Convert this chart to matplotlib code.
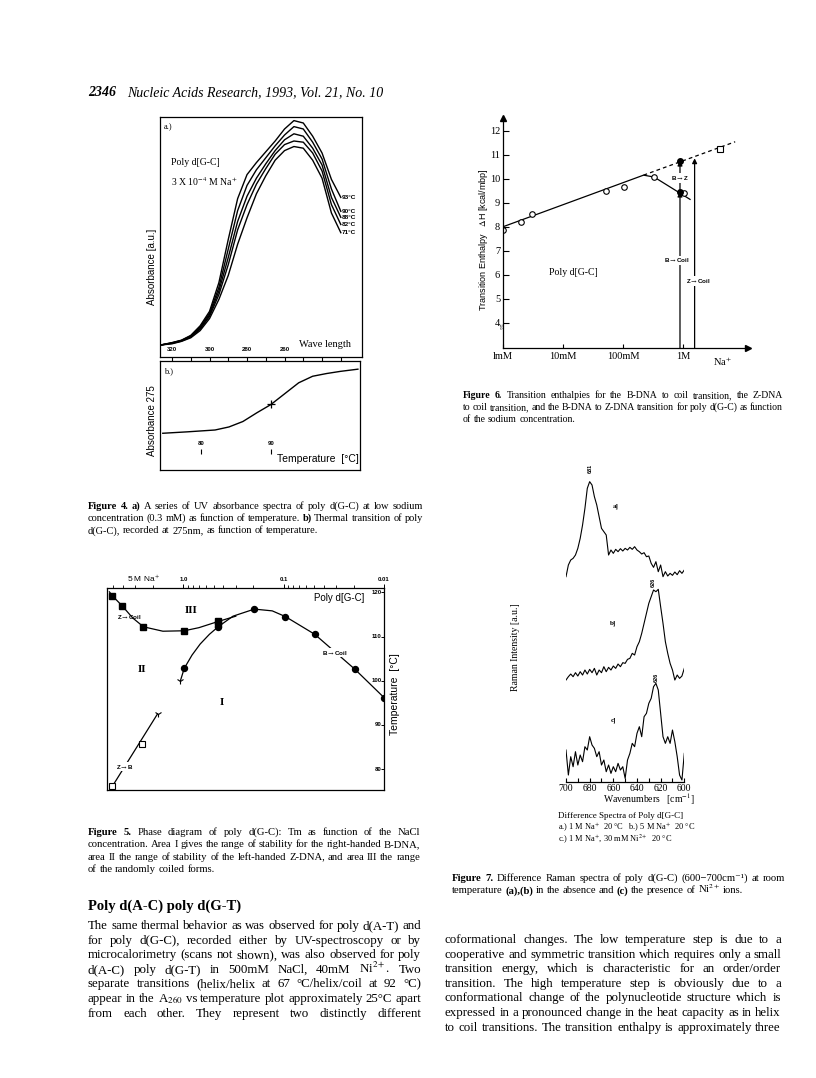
import numpy as np
import matplotlib
matplotlib.use('Agg')
import matplotlib.pyplot as plt
from matplotlib.transforms import blended_transform_factory as blend

plt.rcParams['mathtext.fontset'] = 'stix'
plt.rcParams['axes.linewidth'] = 0.9
SERIF = ['Liberation Serif', 'DejaVu Serif']
SANS = ['Liberation Sans', 'DejaVu Sans']

# ---------------- Figure 4a: UV spectra ----------------
wl = [326, 320, 315, 310, 305, 300, 295, 290, 285, 280, 275, 270, 265, 260, 255, 250, 245, 240, 235, 230]
abs_93 = [.05, .060, .070, .090, .130, .190, .310, .490, .660, .760, .810, .855, .900, .950, .985, .975, .920, .850, .740, .665]
abs_90 = [.05, .059, .069, .088, .125, .182, .290, .450, .610, .715, .780, .830, .880, .925, .960, .950, .895, .825, .700, .607]
abs_88 = [.05, .058, .068, .085, .120, .175, .275, .415, .565, .670, .745, .805, .860, .905, .930, .920, .870, .800, .665, .582]
abs_82 = [.05, .057, .066, .083, .116, .169, .260, .385, .530, .635, .720, .785, .845, .885, .900, .895, .850, .775, .635, .552]
abs_71 = [.05, .055, .065, .080, .110, .160, .240, .340, .470, .580, .680, .755, .820, .860, .877, .870, .820, .745, .600, .518]
temp_labels = ['93°C', '90°C', '88°C', '82°C', '71°C']
wl_ticks = [320, 310, 300, 290, 280, 270, 260, 250, 240, 230]
wl_ticklabels = [320, 300, 280, 260]

# ---------------- Figure 4b: melting curve ----------------
temp_b = [74.5, 78, 82, 84, 86, 88, 90, 92, 94, 96, 98, 100, 102.5]
abs275 = [0.337, 0.350, 0.367, 0.395, 0.445, 0.525, 0.600, 0.700, 0.800, 0.860, 0.885, 0.905, 0.925]
tm_b = [90.1]
tm_abs = [0.603]
temp_ticklabels = [80, 90]

# ---------------- Figure 6: transition enthalpies ----------------
na_open = [1.0e-3, 2.0e-3, 3.0e-3, 0.052, 0.104, 0.33, 1.04]
dh_open = [7.86, 8.18, 8.53, 9.50, 9.67, 10.06, 9.39]
na_fill = [0.89, 0.89]
dh_fill = [9.46, 10.75]
na_square = [4.2]
dh_square = [11.24]
na_fit = [1.0e-3, 0.22, 0.33, 1.31]
dh_fit = [8.00, 10.15, 10.07, 9.14]
na_dash = [0.22, 7.4]
dh_dash = [10.15, 11.54]
dh_ticks = [4, 5, 6, 7, 8, 9, 10, 11, 12]
na_ticks = [1e-3, 1e-2, 1e-1, 1.0]
na_ticklabels = ['lmM', '10mM', '100mM', '1M']
bcoil_na, bcoil_top = 0.89, 9.46
bz_na, bz_top = 0.89, 10.75
zcoil_na, zcoil_top = 1.56, 10.85

# ---------------- Figure 5: phase diagram ----------------
zc_na = [5.1, 4.06, 2.5, 0.98, 0.45, 0.45]
zc_T = [119.2, 116.9, 112.2, 111.3, 113.4, 112.8]
zc_line_na = [5.46, 5.1, 4.06, 3.2, 2.5, 1.6, 0.98, 0.7, 0.45, 0.3]
zc_line_T = [120.1, 119.2, 116.9, 114.2, 112.2, 111.2, 111.3, 112.0, 113.4, 114.6]
bc_na = [0.98, 0.45, 0.196, 0.096, 0.049, 0.0195, 0.01]
bc_T = [102.8, 112.2, 116.2, 114.5, 110.5, 102.6, 96.2]
bc_line_na = [1.07, 0.98, 0.82, 0.68, 0.55, 0.45, 0.32, 0.196, 0.13, 0.096, 0.049, 0.0195, 0.01]
bc_line_T = [100.0, 102.8, 105.8, 108.3, 110.5, 112.2, 114.6, 116.2, 115.8, 114.5, 110.5, 102.6, 96.2]
zb_na = [5.2, 2.6]
zb_T = [76.1, 85.7]
zb_line_na = [5.38, 1.81]
zb_line_T = [75.3, 92.5]
T_ticks = [80, 90, 100, 110, 120]
conc_ticks = [1.0, 0.1, 0.01]
conc_ticklabels = ['1.0', '0.1', '0.01']

# ---------------- Figure 7: Raman difference spectra ----------------
wavenumber = np.arange(700, 599, -2)
spec_a = [62, 65.5, 67, 67.5, 68.5, 70.5, 73.5, 77.5, 82.5, 88.5,
          90.5, 89.5, 86, 83.5, 80, 76.5, 75.5, 74.5, 68.5, 70,
          69, 70.2, 69.5, 70.4, 69.7, 70.5, 70, 70.8, 70.2, 71,
          70, 69.5, 68.8, 69.2, 68, 68.2, 66, 64.8, 66.5, 63.5,
          65.5, 62, 63.5, 62.2, 63, 62.4, 63.4, 62.6, 63.8, 63,
          64]
spec_b = [31, 32, 32.8, 32, 33.2, 32.2, 33.5, 32.5, 34, 32.8,
          34.2, 33.2, 34.5, 32.5, 34, 33.2, 35, 33.5, 34.8, 34,
          35.2, 34.5, 35.8, 35, 36.2, 36, 37.2, 37.5, 39, 38.5,
          41, 42.5, 45, 48, 51, 54, 56, 58, 57.5, 58.2,
          53, 48, 42.5, 39, 36, 34, 31, 32.5, 31.5, 32.2,
          34.5]
spec_c = [10, 2.5, 8, 5, 9.5, 5.5, 8.5, 6.5, 11, 10,
          14, 11.5, 10.5, 8, 9.5, 5.5, 7, 3.5, 5.5, 3,
          5, 3.5, 6, 4, 5, 1.5, 7, 9, 12, 11,
          15, 17, 14, 20, 21, 24, 25.5, 29, 30, 28,
          21, 14, 12, 14, 12, 16, 12.5, 8, 2.5, 1,
          9]
wn_major = [700, 680, 660, 640, 620, 600]
wn_minor = [690, 670, 650, 630, 610]

# ---------------- text ----------------
cap4 = ["*Figure *4. *a) A series of UV absorbance spectra of poly d(G-C) at low sodium",
        "concentration (0.3 mM) as function of temperature. *b) Thermal transition of poly",
        "d(G-C), recorded at 275nm, as function of temperature."]
cap6 = ["*Figure *6. Transition enthalpies for the B-DNA to coil transition, the Z-DNA",
        "to coil transition, and the B-DNA to Z-DNA transition for poly d(G-C) as function",
        "of the sodium concentration."]
cap5 = ["*Figure *5. Phase diagram of poly d(G-C): Tm as function of the NaCl",
        "concentration. Area I gives the range of stability for the right-handed B-DNA,",
        "area II the range of stability of the left-handed Z-DNA, and area III the range",
        "of the randomly coiled forms."]
cap7 = ["*Figure *7. Difference Raman spectra of poly d(G-C) (600\u2212700cm\u207b\u00b9) at room",
        "temperature *(a),(b) in the absence and *(c) the presence of Ni$^{2+}$ ions."]
body_left = ["The same thermal behavior as was observed for poly d(A-T) and",
             "for poly d(G-C), recorded either by UV-spectroscopy or by",
             "microcalorimetry (scans not shown), was also observed for poly",
             "d(A-C) poly d(G-T) in 500mM NaCl, 40mM Ni$^{2+}$. Two",
             "separate transitions (helix/helix at 67 °C/helix/coil at 92 °C)",
             "appear in the A$_{260}$ vs temperature plot approximately 25°C apart",
             "from each other. They represent two distinctly different"]
body_right = ["coformational changes. The low temperature step is due to a",
              "cooperative and symmetric transition which requires only a small",
              "transition energy, which is characteristic for an order/order",
              "transition. The high temperature step is obviously due to a",
              "conformational change of the polynucleotide structure which is",
              "expressed in a pronounced change in the heat capacity as in helix",
              "to coil transitions. The transition enthalpy is approximately three"]

W, H = 816, 1078
fig = plt.figure(figsize=(W / 100, H / 100), dpi=100)
fig.patch.set_facecolor('white')
renderer = fig.canvas.get_renderer()


def add_ax(x0, y0, x1, y1):
    return fig.add_axes([x0 / W, 1 - y1 / H, (x1 - x0) / W, (y1 - y0) / H])


def ptext(x, y, s, **kw):
    kw.setdefault('family', SERIF)
    return fig.text(x / W, 1 - y / H, s, **kw)


def measure(s, size, wt):
    t = ptext(0, 0, s, fontsize=size, fontweight=wt)
    wd = t.get_window_extent(renderer).width
    t.remove()
    return wd


def para(lines, x0, x1, y0, dy, max_size, justify_last=False, min_gap=0.22):
    parsed = []
    for line in lines:
        words = []
        for w in line.split(' '):
            if w.startswith('*'):
                words.append((w[1:], 'bold'))
            else:
                words.append((w, 'normal'))
        parsed.append(words)
    base = 10.0
    em = base * 100 / 72
    wids = [[measure(w, base, wt) for w, wt in words] for words in parsed]
    scales = []
    for ws in wids:
        nat = sum(ws) + (len(ws) - 1) * min_gap * em
        scales.append((x1 - x0) / nat)
    size = min(max_size, base * min(scales) * 0.995)
    for i, words in enumerate(parsed):
        arts = [ptext(0, y0 + i * dy, w, fontsize=size, fontweight=wt, va='baseline')
                for w, wt in words]
        ws = [a.get_window_extent(renderer).width for a in arts]
        last = (i == len(lines) - 1) and not justify_last
        if last or len(ws) == 1:
            gap = size * 100 / 72 * 0.25
        else:
            gap = max(1.0, (x1 - x0 - sum(ws)) / (len(ws) - 1))
        x = x0
        for a, wd in zip(arts, ws):
            a.set_x(x / W)
            x += wd + gap


# header
ptext(88, 96, '2346', fontsize=10, fontweight='bold', style='italic', va='baseline')
ptext(127, 96, 'Nucleic Acids Research, 1993, Vol. 21, No. 10', fontsize=10,
      style='italic', va='baseline')

# ---- Fig 4a ----
ax = add_ax(160, 117, 362, 357)
for vals, lab in zip([abs_93, abs_90, abs_88, abs_82, abs_71], temp_labels):
    ax.plot(wl, vals, color='k', lw=1.0)
    ax.text(wl[-1] - 0.6, vals[-1], lab, fontsize=4.6, fontweight='bold', family=SANS,
            ha='left', va='center')
ax.set_xlim(326.4, 218.7)
ax.set_ylim(0, 1)
ax.set_yticks([])
ax.set_xticks(wl_ticks)
ax.set_xticklabels([])
ax.tick_params(axis='x', direction='out', length=3, width=0.8)
for v in wl_ticklabels:
    ax.text(v, 0.022, str(v), fontsize=4.3, fontweight='bold', family=SANS, ha='center', va='bottom')
ax.text(238.5, 0.035, 'Wave length', fontsize=7.5, family=SERIF, ha='center', va='bottom')
ax.text(324.6, 0.975, 'a.)', fontsize=6, family=SERIF, ha='left', va='top')
ax.text(320.5, 0.81, 'Poly d[G-C]', fontsize=7, family=SERIF, ha='left', va='center')
ax.text(320.5, 0.73, '3 X 10$^{-4}$ M Na$^{+}$', fontsize=7, family=SERIF, ha='left', va='center')
ptext(152, 267, 'Absorbance [a.u.]', family=SANS, fontsize=7, rotation=90, ha='center', va='center')

# ---- Fig 4b ----
ax = add_ax(160, 361, 360, 470)
ax.plot(temp_b, abs275, color='k', lw=1.0)
ax.plot(tm_b, tm_abs, marker='+', color='k', ms=6, mew=0.9)
ax.set_xlim(74.1, 102.8)
ax.set_ylim(0, 1)
ax.set_xticks([])
ax.set_yticks([])
for v in temp_ticklabels:
    ax.text(v, 0.22, str(v), fontsize=4.3, fontweight='bold', family=SANS, ha='center', va='bottom')
ax.vlines(temp_ticklabels, 0.15, 0.19, color='k', lw=0.8)
ax.text(96.7, 0.1, 'Temperature  [°C]', fontsize=7.5, family=SANS, ha='center', va='center')
ax.text(74.7, 0.94, 'b.)', fontsize=6, family=SERIF, ha='left', va='top')
ptext(152, 421, 'Absorbance 275', family=SANS, fontsize=7, rotation=90, ha='center', va='center')

para(cap4, 88, 423, 509, 12.2, 8.5)

# ---- Fig 6 ----
ax = add_ax(503, 118, 748, 348)
ax.set_xscale('log')
ax.set_xlim(1e-3, 12.1)
ax.set_ylim(2.95, 12.53)
for s in ['top', 'right']:
    ax.spines[s].set_visible(False)
ax.plot(na_fit, dh_fit, color='k', lw=0.9)
ax.plot(na_dash, dh_dash, color='k', lw=0.9, ls=(0, (3, 2.5)))
ax.plot(na_open, dh_open, 'o', mfc='white', mec='k', ms=4, mew=0.8)
ax.plot(na_fill, dh_fill, 'o', color='k', ms=4)
ax.plot(na_square, dh_square, 's', mfc='white', mec='k', ms=4, mew=0.8)
arw = dict(arrowstyle='-|>', color='k', lw=0.9, mutation_scale=7, shrinkA=0, shrinkB=0)
ax.annotate('', xy=(bcoil_na, bcoil_top), xytext=(bcoil_na, 2.95), arrowprops=arw)
ax.annotate('', xy=(zcoil_na, zcoil_top), xytext=(zcoil_na, 2.95), arrowprops=arw)
ax.annotate('', xy=(bz_na, bz_top), xytext=(bz_na, bcoil_top), arrowprops=arw)
box = dict(fc='white', ec='none', pad=0.6)
ax.text(0.79, 6.6, 'B$\\rightarrow$Coil', fontsize=4.5, fontweight='bold', family=SANS,
        ha='center', va='center', bbox=box)
ax.text(1.78, 5.74, 'Z$\\rightarrow$Coil', fontsize=4.5, fontweight='bold', family=SANS,
        ha='center', va='center', bbox=box)
ax.text(0.89, 10.03, 'B$\\rightarrow$Z', fontsize=4.5, fontweight='bold', family=SANS,
        ha='center', va='center', bbox=box)
ax.text(0.0147, 6.1, 'Poly d[G-C]', fontsize=7, family=SERIF, ha='center', va='center')
ax.set_yticks(dh_ticks)
ax.set_yticklabels([str(v) for v in dh_ticks], family=SERIF, fontsize=7.5)
ax.set_xticks(na_ticks)
ax.set_xticklabels(na_ticklabels, family=SERIF, fontsize=7.5)
ax.minorticks_off()
ax.tick_params(axis='y', direction='in', length=4, width=0.8, pad=2)
ax.tick_params(axis='x', direction='in', length=3, width=0.8, pad=3)
ax.text(4.6, -0.035, 'Na$^{+}$', transform=blend(ax.transData, ax.transAxes), fontsize=7.5,
        family=SERIF, ha='center', va='top')
ax.plot([0], [1], marker='^', color='k', ms=4, transform=ax.transAxes, clip_on=False)
ax.plot([1], [0], marker='>', color='k', ms=4, transform=ax.transAxes, clip_on=False)
ax.text(1e-3, 3.8, '//', fontsize=6, family=SANS, ha='center', va='center', rotation=20)
ptext(483, 240, 'Transition Enthalpy   $\\Delta$H [kcal/mbp]', family=SANS, fontsize=6.5,
      rotation=90, ha='center', va='center')

para(cap6, 463, 783, 398, 12.2, 8.5)

# ---- Fig 5 ----
ax = add_ax(107, 588, 384, 790)
ax.set_xscale('log')
ax.set_xlim(5.77, 0.01)
ax.set_ylim(75.3, 120.97)
ax.plot(zc_line_na, zc_line_T, color='k', lw=0.9)
ax.plot(bc_line_na, bc_line_T, color='k', lw=0.9)
ax.plot(zb_line_na, zb_line_T, color='k', lw=0.9)
ax.plot(zc_na, zc_T, 's', color='k', ms=4)
ax.plot(bc_na, bc_T, 'o', color='k', ms=4.3)
ax.plot(zb_na, zb_T, 's', mfc='white', mec='k', ms=4, mew=0.8)
ax.plot([bc_line_na[0]], [bc_line_T[0]], marker='1', color='k', ms=5, mew=0.8)
ax.plot([zb_line_na[-1]], [zb_line_T[-1]], marker='1', color='k', ms=5, mew=0.8)
ax.xaxis.set_ticks_position('top')
ax.set_xticks(conc_ticks)
ax.set_xticklabels(conc_ticklabels, fontsize=4.3, fontweight='bold', family=SANS)
ax.tick_params(axis='x', which='major', direction='out', length=3, width=0.7, pad=1.5)
ax.tick_params(axis='x', which='minor', direction='out', length=2, width=0.6, labeltop=False)
ax.yaxis.set_ticks_position('right')
ax.set_yticks(T_ticks)
ax.set_yticklabels([])
ax.tick_params(axis='y', direction='in', length=2, width=0.7)
for t in T_ticks:
    ax.text(0.992, t, str(t), transform=blend(ax.transAxes, ax.transData), fontsize=4.3,
            fontweight='bold', family=SANS, ha='right', va='center')
box = dict(fc='white', ec='none', pad=0.4)
ax.text(0.84, 115.8, 'III', fontsize=8, fontweight='bold', family=SERIF, ha='center', va='center')
ax.text(2.56, 102.6, 'II', fontsize=8, fontweight='bold', family=SERIF, ha='center', va='center')
ax.text(0.41, 95.05, 'I', fontsize=8, fontweight='bold', family=SERIF, ha='center', va='center')
ax.text(0.0307, 106.3, 'B$\\rightarrow$Coil', fontsize=4.5, fontweight='bold', family=SANS,
        ha='center', va='center', bbox=box)
ax.text(3.48, 114.5, 'Z$\\rightarrow$Coil', fontsize=4.5, fontweight='bold', family=SANS,
        ha='center', va='center')
ax.text(3.8, 80.6, 'Z$\\rightarrow$B', fontsize=4.5, fontweight='bold', family=SANS,
        ha='center', va='center', bbox=box)
ax.text(0.028, 118.7, 'Poly d[G-C]', fontsize=7, family=SANS, ha='center', va='center')
ptext(143, 582, '5 M Na$^{+}$', family=SANS, fontsize=6, ha='center', va='baseline')
ptext(395, 694, 'Temperature  [°C]', family=SANS, fontsize=7.5, rotation=90, ha='center', va='center')

para(cap5, 88, 420, 835, 12.3, 8.5)

# heading + left body
ptext(88, 910, 'Poly d(A-C) poly d(G-T)', fontsize=10.5, fontweight='bold', va='baseline')
para(body_left, 88, 421, 929, 14.6, 10.5, justify_last=True)

# ---- Fig 7 ----
ax = add_ax(566, 450, 684.3, 781.7)
for spec in (spec_a, spec_b, spec_c):
    ax.plot(wavenumber, spec, color='k', lw=0.8)
ax.set_xlim(700, 600)
ax.set_ylim(0.5, 100)
for s in ['top', 'right', 'left']:
    ax.spines[s].set_visible(False)
ax.set_yticks([])
ax.set_xticks(wn_major)
ax.set_xticks(wn_minor, minor=True)
ax.set_xticklabels([str(v) for v in wn_major], fontsize=7, family=SERIF)
ax.tick_params(axis='x', which='both', direction='in', length=3, width=0.8, pad=1.5)
ax.text(679.7, 93, '681', fontsize=4, fontweight='bold', family=SANS, rotation=90,
        ha='center', va='bottom')
ax.text(626.0, 59, '626', fontsize=4, fontweight='bold', family=SANS, rotation=90,
        ha='center', va='bottom')
ax.text(624.0, 30.5, '626', fontsize=4, fontweight='bold', family=SANS, rotation=90,
        ha='center', va='bottom')
ax.text(657.7, 83, 'a]', fontsize=5, fontweight='bold', family=SERIF, ha='center', va='center')
ax.text(660, 48, 'b]', fontsize=5, fontweight='bold', family=SERIF, ha='center', va='center')
ax.text(660, 19, 'c]', fontsize=5, fontweight='bold', family=SERIF, ha='center', va='center')
ptext(515, 647, 'Raman Intensity [a.u.]', fontsize=7, rotation=90, ha='center', va='center')
ptext(649, 803, 'Wavenumbers   [cm$^{-1}$]', fontsize=7, ha='center', va='baseline')
ptext(558, 818, 'Difference Spectra of Poly d[G-C]', fontsize=6.5, va='baseline')
ptext(558, 830, 'a.) 1 M Na$^{+}$  20 °C   b.) 5 M Na$^{+}$  20 °C', fontsize=6, va='baseline')
ptext(558, 842, 'c.) 1 M Na$^{+}$, 30 mM Ni$^{2+}$  20 °C', fontsize=6, va='baseline')

para(cap7, 452, 785, 881, 12.3, 8.5, min_gap=0.3)
para(body_right, 445, 781, 943, 14.6, 10.5, justify_last=True)

fig.savefig('out.png', dpi=100)
